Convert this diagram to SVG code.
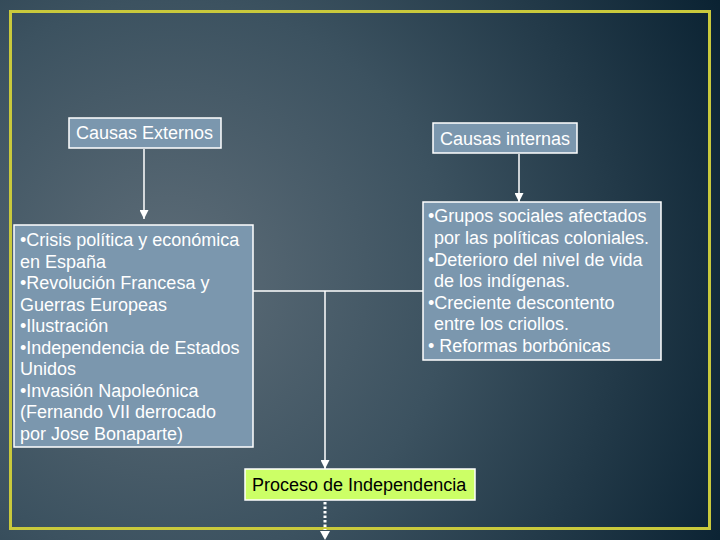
<svg xmlns="http://www.w3.org/2000/svg" width="720" height="540" viewBox="0 0 720 540">
<defs>
<radialGradient id="bg" cx="170" cy="280" r="620" gradientUnits="userSpaceOnUse">
<stop offset="0" stop-color="#5e6d78"/>
<stop offset="0.45" stop-color="#3c5260"/>
<stop offset="1" stop-color="#0a2232"/>
</radialGradient>
<marker id="ah" viewBox="0 0 10 10" refX="10" refY="5" markerWidth="9" markerHeight="9" markerUnits="userSpaceOnUse" orient="auto">
<path d="M0,0 L10,5 L0,10 Z" fill="#ffffff"/>
</marker>
<style>
.box{fill:#7b97ae;stroke:#ffffff;stroke-width:1.5}
.t{font-family:"Liberation Sans",Arial,sans-serif;font-size:18px;fill:#ffffff}
.c{stroke:#ffffff;stroke-width:1.5;fill:none}
</style>
</defs>
<rect x="0" y="0" width="720" height="540" fill="url(#bg)"/>
<rect x="10.5" y="11.5" width="699" height="517" fill="none" stroke="#c9c93c" stroke-width="3"/>
<g id="connectors">
<line class="c" x1="144" y1="149" x2="144" y2="219" marker-end="url(#ah)"/>
<line class="c" x1="519" y1="154" x2="519" y2="202" marker-end="url(#ah)"/>
<line class="c" x1="253" y1="291" x2="423" y2="291"/>
<line class="c" x1="325" y1="291" x2="325" y2="469" marker-end="url(#ah)"/>
<line x1="325" y1="502" x2="325" y2="530" stroke="#ffffff" stroke-width="3" stroke-dasharray="2.5,2"/>
<path d="M320,531 L330,531 L325,540 Z" fill="#ffffff"/>
</g>
<g id="causas-externos">
<rect class="box" x="69" y="118" width="152" height="30"/>
<text class="t" x="76" y="139">Causas Externos</text>
</g>
<g id="causas-internas">
<rect class="box" x="433" y="123" width="144" height="30"/>
<text class="t" x="440" y="145">Causas internas</text>
</g>
<g id="externas-lista">
<rect class="box" x="14" y="225" width="239" height="222"/>
<text class="t">
<tspan x="20" y="246">•Crisis política y económica</tspan>
<tspan x="20" y="267.5">en España</tspan>
<tspan x="20" y="289">•Revolución Francesa y</tspan>
<tspan x="20" y="310.5">Guerras Europeas</tspan>
<tspan x="20" y="332">•Ilustración</tspan>
<tspan x="20" y="353.5">•Independencia de Estados</tspan>
<tspan x="20" y="375">Unidos</tspan>
<tspan x="20" y="396.5">•Invasión Napoleónica</tspan>
<tspan x="20" y="418">(Fernando VII derrocado</tspan>
<tspan x="20" y="439.5">por Jose Bonaparte)</tspan>
</text>
</g>
<g id="internas-lista">
<rect class="box" x="423" y="202" width="238" height="158"/>
<text class="t">
<tspan x="428" y="222">•Grupos sociales afectados</tspan>
<tspan x="434" y="244">por las políticas coloniales.</tspan>
<tspan x="428" y="265.5">•Deterioro del nivel de vida</tspan>
<tspan x="434" y="287">de los indígenas.</tspan>
<tspan x="428" y="308.5">•Creciente descontento</tspan>
<tspan x="434" y="330">entre los criollos.</tspan>
<tspan x="428" y="352">• Reformas borbónicas</tspan>
</text>
</g>
<g id="proceso">
<rect x="245" y="469" width="230" height="31" fill="#ccff66" stroke="#ffffff" stroke-width="1.5"/>
<text class="t" x="252" y="491" style="fill:#000000">Proceso de Independencia</text>
</g>
</svg>
